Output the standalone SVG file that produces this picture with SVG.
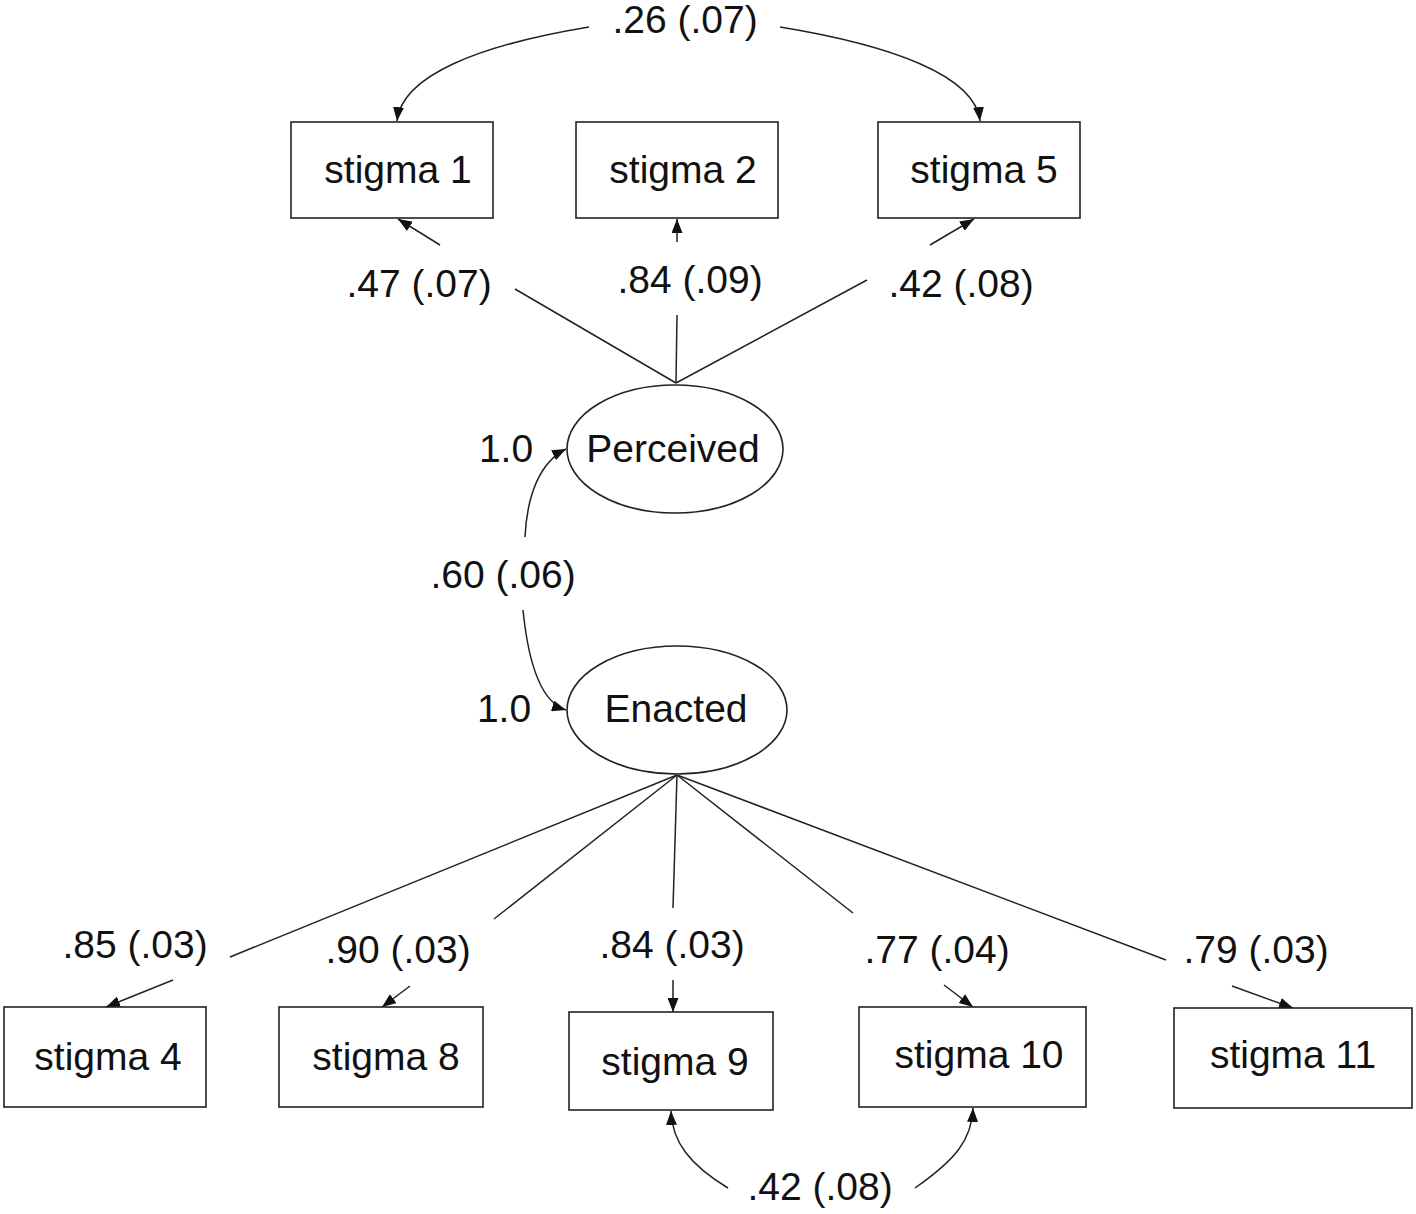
<svg xmlns="http://www.w3.org/2000/svg" width="1416" height="1214" viewBox="0 0 1416 1214">
<defs>
<style>
text{font-family:"Liberation Sans",Arial,sans-serif;font-size:39px;fill:#111;text-anchor:middle}
.box{fill:#fff;stroke:#222;stroke-width:1.6}
.ell{fill:#fff;stroke:#222;stroke-width:1.6}
.c{fill:none;stroke:#222;stroke-width:1.5}
.a{fill:none;stroke:#222;stroke-width:1.5;marker-end:url(#ah)}
</style>
<marker id="ah" viewBox="0 0 14 11" refX="14" refY="5.5" markerWidth="14" markerHeight="11" markerUnits="userSpaceOnUse" orient="auto">
<path d="M0,0 L14,5.5 L0,11 Z" fill="#111"/>
</marker>
</defs>
<rect width="1416" height="1214" fill="#fff"/>
<g id="connectors">
<path class="a" d="M589,27 C480,45 402,75 397,121"/>
<path class="a" d="M780,27 C890,45 975,75 980,121"/>
<line class="a" x1="440" y1="245" x2="398" y2="219"/>
<line class="a" x1="677" y1="242" x2="677" y2="219"/>
<line class="a" x1="930" y1="245" x2="974" y2="219"/>
<line class="c" x1="515" y1="289" x2="676" y2="383"/>
<line class="c" x1="677" y1="315" x2="676" y2="383"/>
<line class="c" x1="867" y1="280" x2="676" y2="383"/>
<path class="a" d="M525,537 C527,495 540,462 566,449"/>
<path class="a" d="M523,610 C528,660 540,702 566,710"/>
<line class="c" x1="677" y1="775" x2="230" y2="957"/>
<line class="c" x1="677" y1="775" x2="494" y2="919"/>
<line class="c" x1="677" y1="775" x2="673" y2="908"/>
<line class="c" x1="677" y1="775" x2="853" y2="913"/>
<line class="c" x1="677" y1="775" x2="1166" y2="960"/>
<line class="a" x1="173" y1="980" x2="106" y2="1007"/>
<line class="a" x1="410" y1="986" x2="382" y2="1007"/>
<line class="a" x1="673" y1="980" x2="673" y2="1012"/>
<line class="a" x1="944" y1="985" x2="973" y2="1007"/>
<line class="a" x1="1232" y1="986" x2="1293" y2="1008"/>
<path class="a" d="M728,1188 C690,1165 672,1142 671,1111"/>
<path class="a" d="M915,1188 C955,1160 972,1140 973,1108"/>
</g>
<g id="labels">
<text x="685" y="33">.26 (.07)</text>
<text x="419" y="297">.47 (.07)</text>
<text x="690" y="293">.84 (.09)</text>
<text x="961" y="297">.42 (.08)</text>
<text x="506" y="462">1.0</text>
<text x="503" y="588">.60 (.06)</text>
<text x="504" y="722">1.0</text>
<text x="135" y="958">.85 (.03)</text>
<text x="398" y="963">.90 (.03)</text>
<text x="672" y="958">.84 (.03)</text>
<text x="937" y="963">.77 (.04)</text>
<text x="1256" y="963">.79 (.03)</text>
<text x="820" y="1200">.42 (.08)</text>
</g>
<g id="stigma1"><rect class="box" x="291" y="122" width="202" height="96"/><text x="398" y="183">stigma 1</text></g>
<g id="stigma2"><rect class="box" x="576" y="122" width="202" height="96"/><text x="683" y="183">stigma 2</text></g>
<g id="stigma5"><rect class="box" x="878" y="122" width="202" height="96"/><text x="984" y="183">stigma 5</text></g>
<g id="perceived"><ellipse class="ell" cx="675" cy="449" rx="108" ry="64"/><text x="673" y="462">Perceived</text></g>
<g id="enacted"><ellipse class="ell" cx="677" cy="710" rx="110" ry="64"/><text x="676" y="722">Enacted</text></g>
<g id="stigma4"><rect class="box" x="4" y="1007" width="202" height="100"/><text x="108" y="1070">stigma 4</text></g>
<g id="stigma8"><rect class="box" x="279" y="1007" width="204" height="100"/><text x="386" y="1070">stigma 8</text></g>
<g id="stigma9"><rect class="box" x="569" y="1012" width="204" height="98"/><text x="675" y="1075">stigma 9</text></g>
<g id="stigma10"><rect class="box" x="859" y="1007" width="227" height="100"/><text x="979" y="1068">stigma 10</text></g>
<g id="stigma11"><rect class="box" x="1174" y="1008" width="238" height="100"/><text x="1293" y="1068">stigma 11</text></g>
</svg>
